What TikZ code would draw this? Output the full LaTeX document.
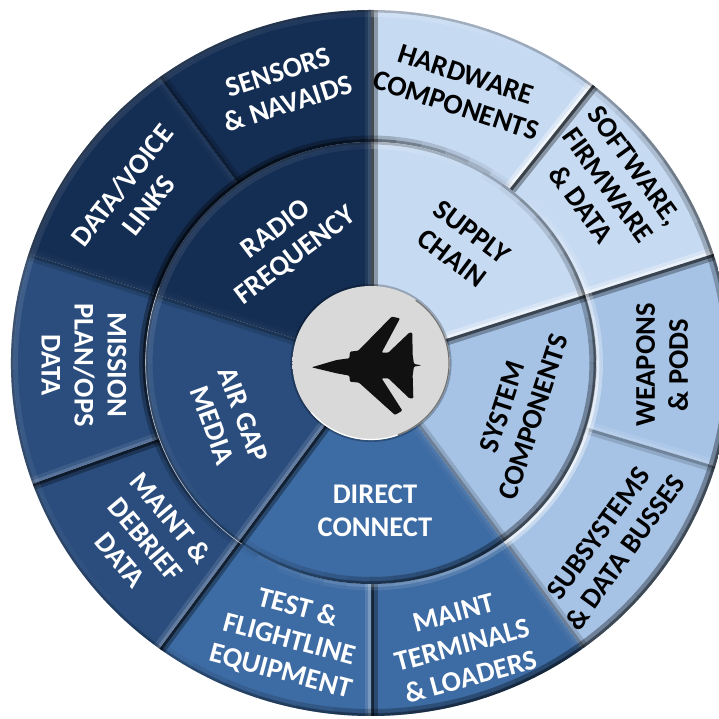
\documentclass[tikz,border=0pt]{standalone}
\usepackage{fontspec}
\setmainfont{Carlito}
\definecolor{navy}{HTML}{142D52}
\definecolor{airblue}{HTML}{2A4D7D}
\definecolor{directblue}{HTML}{3D6BA3}
\definecolor{systemblue}{HTML}{A6C3E6}
\definecolor{supplyblue}{HTML}{C6DAF2}
\definecolor{planeblack}{HTML}{111111}
\pgfdeclareradialshading{hubface}{\pgfpoint{0bp}{0bp}}{color(0bp)=(black!15); color(38bp)=(black!15); color(44bp)=(black!5); color(47bp)=(black!10); color(50bp)=(black!28)}
\tikzset{
	whitelabel/.style={text=white,font=\bfseries\fontsize{28.5}{33}\selectfont,align=center,inner sep=0pt},
	darklabel/.style={whitelabel,text=black},
}
% light comes from the upper left, #2 is how strong it shows on this colour
\newcommand{\edgeshade}[2]{%
	\pgfmathsetmacro\edgeval{cos(#1-145)-0.1}%
	\pgfmathparse{\edgeval>0?"white":"black"}\let\edgecol\pgfmathresult%
	\pgfmathsetmacro\edgeop{\edgeval>0?min(\edgeval*#2,0.8):min(abs(\edgeval)*0.55,0.55)}%
}
% inner radius, outer radius, start angle, end angle, colour, arc steps, light strength
\newcommand{\wheelsector}[7]{%
	\begin{scope}
		\clip (#3:#1) arc[start angle=#3,end angle=#4,radius=#1] -- (#4:#2) arc[start angle=#4,end angle=#3,radius=#2] -- cycle;
		\fill[#5] (-400,-400) rectangle (400,400);
		\edgeshade{#3-90}{#7}
		\draw[\edgecol,opacity=\edgeop*0.6,line width=13pt] (#3:#1) -- (#3:#2);
		\draw[\edgecol,opacity=\edgeop,line width=6pt] (#3:#1) -- (#3:#2);
		\edgeshade{#4+90}{#7}
		\draw[\edgecol,opacity=\edgeop*0.6,line width=13pt] (#4:#1) -- (#4:#2);
		\draw[\edgecol,opacity=\edgeop,line width=6pt] (#4:#1) -- (#4:#2);
		\foreach \i in {1,...,#6}{
			\pgfmathsetmacro\angA{#3+(\i-1)*(#4-#3)/#6}
			\pgfmathsetmacro\angB{#3+\i*(#4-#3)/#6}
			\pgfmathsetmacro\angM{(\angA+\angB)/2}
			\edgeshade{\angM}{#7}
			\draw[\edgecol,opacity=\edgeop*0.6,line width=14pt] (\angA:#2) arc[start angle=\angA,end angle=\angB,radius=#2];
			\draw[\edgecol,opacity=\edgeop*0.5,line width=6pt] (\angA:#2) arc[start angle=\angA,end angle=\angB,radius=#2];
			\edgeshade{\angM+180}{#7}
			\draw[\edgecol,opacity=\edgeop*0.6,line width=13pt] (\angA:#1) arc[start angle=\angA,end angle=\angB,radius=#1];
			\draw[\edgecol,opacity=\edgeop,line width=6pt] (\angA:#1) arc[start angle=\angA,end angle=\angB,radius=#1];
		}
		% grey lip along the rim
		\draw[black,opacity=.22,line width=5pt] (#3:#2) arc[start angle=#3,end angle=#4,radius=#2];
	\end{scope}
}
\begin{document}
\begin{tikzpicture}[x=1pt,y=1pt]
	\clip (0,0) rectangle (719,719);
	\begin{scope}[shift={(371,356)},xscale=1.02]
		% outer ring
		\wheelsector{221}{353}{90}{52}{supplyblue}{6}{.7}
		\wheelsector{221}{353}{52}{18}{supplyblue}{6}{.7}
		\wheelsector{221}{353}{18}{-17}{systemblue}{6}{.7}
		\wheelsector{221}{353}{-17}{-54}{systemblue}{6}{.7}
		\wheelsector{221}{353}{-54}{-90}{directblue}{6}{.3}
		\wheelsector{221}{353}{-90}{-126}{directblue}{6}{.3}
		\wheelsector{221}{353}{-126}{-160}{airblue}{6}{.2}
		\wheelsector{221}{353}{-160}{-198}{airblue}{6}{.2}
		\wheelsector{221}{353}{-198}{-234}{navy}{6}{.15}
		\wheelsector{221}{353}{-234}{-270}{navy}{6}{.15}
		% inner ring
		\wheelsector{70}{221}{90}{18}{supplyblue}{12}{.7}
		\wheelsector{70}{221}{18}{-54}{systemblue}{12}{.7}
		\wheelsector{70}{221}{-54}{-126}{directblue}{12}{.3}
		\wheelsector{70}{221}{-126}{-198}{airblue}{12}{.2}
		\wheelsector{70}{221}{-198}{-270}{navy}{12}{.15}
		\draw[white,opacity=.6,line width=.7pt] (160:221) arc[start angle=160,end angle=235,radius=221];
		\draw[white,opacity=.5,line width=.7pt] (18:221) arc[start angle=18,end angle=-20,radius=221];
		% hub
		\fill[black,opacity=.25] (0,0) circle[radius=79];
		\shade[shading=hubface] (0,0) circle[radius=77];
		\draw[black!55,line width=1.2pt] (55:76.5) arc[start angle=55,end angle=-70,radius=76.5];
		\draw[white,line width=1.2pt] (-70:76.5) arc[start angle=-70,end angle=-140,radius=76.5];
	\end{scope}
	% plane
	\fill[planeblack,shift={(260,459)},x=.3333pt,y=-.3333pt,rounded corners=1pt]
		(155,322) -- (230,300) -- (268,295) -- (270,275) -- (295,272) -- (395,170) -- (420,175) -- (365,278) -- (385,278) -- (448,218) -- (457,218) -- (458,285) -- (462,312) -- (485,316) -- (462,320) -- (458,345) -- (460,415) -- (448,415) -- (385,355) -- (365,355) -- (427,452) -- (405,465) -- (297,368) -- (270,365) -- (268,347) -- (230,340) -- cycle;
	% outer labels
	\node[whitelabel,rotate=18] (sensors) at (283,631) {SENSORS\\\& NAVAIDS};
	\node[whitelabel,rotate=52] (links) at (135,524) {DATA/VOICE\\LINKS};
	\node[whitelabel,rotate=-90] (mission) at (84,354) {MISSION\\PLAN/OPS\\DATA};
	\node[whitelabel,rotate=-50] (debrief) at (146,180) {MAINT \&\\DEBRIEF\\DATA};
	\node[whitelabel,rotate=-15] (flightline) at (289,79) {TEST \&\\FLIGHTLINE\\EQUIPMENT};
	\node[whitelabel,rotate=15] (terminals) at (462,74) {MAINT\\TERMINALS\\\& LOADERS};
	\node[darklabel,rotate=54] (subsystems) at (612,176) {SUBSYSTEMS\\\& DATA BUSSES};
	\node[darklabel,rotate=90] (weapons) at (662,354) {WEAPONS\\\& PODS};
	\node[darklabel,rotate=-54] (software) at (608,534) {SOFTWARE,\\FIRMWARE\\\& DATA};
	\node[darklabel,rotate=-18] (hardware) at (461,629) {HARDWARE\\COMPONENTS};
	% inner labels
	\node[whitelabel,rotate=37] (radio) at (286,476) {RADIO\\FREQUENCY};
	\node[darklabel,rotate=-37] (supply) at (462,474) {SUPPLY\\CHAIN};
	\node[darklabel,rotate=72] (system) at (518,307) {SYSTEM\\COMPONENTS};
	\node[whitelabel] (direct) at (375,208) {DIRECT\\CONNECT};
	\node[whitelabel,rotate=-70] (airgap) at (228,299) {AIR GAP\\MEDIA};
\end{tikzpicture}
\end{document}
